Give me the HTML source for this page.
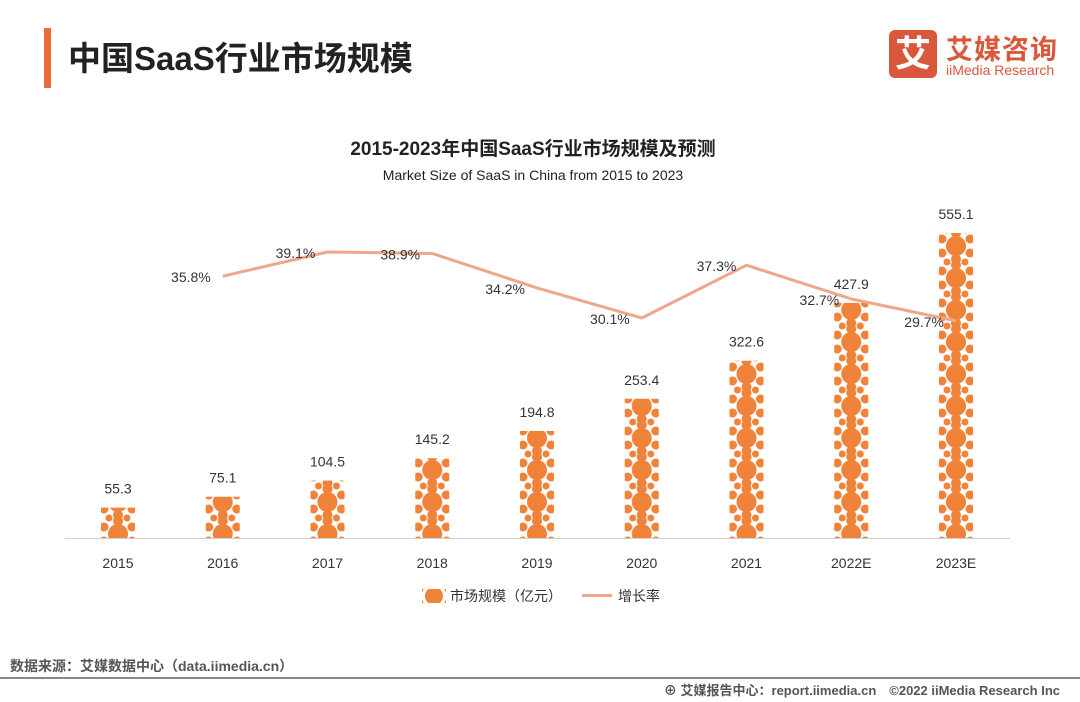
<!DOCTYPE html>
<html><head><meta charset="utf-8"><style>
body{margin:0;width:1080px;height:702px;background:#fff;font-family:"Liberation Sans","Noto Sans CJK SC",sans-serif;overflow:hidden;position:relative}
.abs{position:absolute}
</style></head><body>
<div class="abs" style="left:44px;top:28px;width:7px;height:60px;background:#ee6a3a"></div>
<div class="abs" style="left:68px;top:32px;font-size:33px;font-weight:bold;color:#222">中国SaaS行业市场规模</div>
<div class="abs" style="left:889px;top:30px;width:48px;height:48px;background:#d9573a;border-radius:6px;color:#fff;font-size:36px;font-weight:bold;text-align:center;line-height:48px">艾</div>
<div class="abs" style="left:946px;top:28px;font-size:27px;font-weight:bold;color:#d9573a;letter-spacing:1px">艾媒咨询</div>
<div class="abs" style="left:946px;top:62px;font-size:14px;color:#d9573a">iiMedia Research</div>
<div class="abs" style="left:0;width:1066px;text-align:center;top:134px;font-size:19px;font-weight:bold;color:#222">2015-2023年中国SaaS行业市场规模及预测</div>
<div class="abs" style="left:0;width:1066px;text-align:center;top:167px;font-size:14px;color:#222">Market Size of SaaS in China from 2015 to 2023</div>
<svg class="abs" style="left:0;top:0" width="1080" height="702">
<defs><pattern id="pt" patternUnits="userSpaceOnUse" width="34" height="32" x="-17" y="6">
<rect width="34" height="32" fill="#fff"/>
<circle cx="17" cy="16" r="10" fill="#f0823a"/><circle cx="17" cy="3" r="5" fill="#f0823a"/><circle cx="17" cy="29" r="5" fill="#f0823a"/>
<circle cx="3" cy="9" r="4.5" fill="#f0823a"/><circle cx="31" cy="9" r="4.5" fill="#f0823a"/><circle cx="3" cy="23" r="4.5" fill="#f0823a"/><circle cx="31" cy="23" r="4.5" fill="#f0823a"/>
<circle cx="8" cy="0" r="3.5" fill="#f0823a"/><circle cx="26" cy="0" r="3.5" fill="#f0823a"/><circle cx="8" cy="32" r="3.5" fill="#f0823a"/><circle cx="26" cy="32" r="3.5" fill="#f0823a"/>
</pattern>
<pattern id="pt2" patternUnits="userSpaceOnUse" width="34" height="32" x="-5" y="-9">
<rect width="34" height="32" fill="#fff"/>
<circle cx="17" cy="16" r="9" fill="#f0823a"/>
<circle cx="3" cy="9" r="3.5" fill="#f0823a"/><circle cx="31" cy="9" r="3.5" fill="#f0823a"/><circle cx="3" cy="23" r="3.5" fill="#f0823a"/><circle cx="31" cy="23" r="3.5" fill="#f0823a"/>
</pattern></defs>
<line x1="65" y1="538.5" x2="1010" y2="538.5" stroke="#d0d0d0"/>
<g id="bars"></g><g id="line"></g><g id="labels"></g>
</svg>
<div class="abs" style="left:422px;top:586px;font-size:14px;color:#333;display:flex;align-items:center">
<svg width="24" height="14"><rect width="24" height="14" fill="url(#pt2)"/></svg><span style="margin-left:4px">市场规模（亿元）</span>
<svg width="30" height="4" style="margin-left:20px"><rect width="30" height="3" fill="#f0a688"/></svg><span style="margin-left:6px">增长率</span></div>
<div class="abs" style="left:10px;top:656px;font-size:14px;font-weight:bold;color:#555">数据来源：艾媒数据中心（data.iimedia.cn）</div>
<div class="abs" style="left:0;top:677px;width:1080px;height:2px;background:#888"></div>
<div class="abs" style="right:20px;top:680px;font-size:13px;font-weight:bold;color:#555">⊕ 艾媒报告中心：report.iimedia.cn　©2022 iiMedia Research Inc</div>
<script>
const categories=["2015","2016","2017","2018","2019","2020","2021","2022E","2023E"];
const sizes=[55.3,75.1,104.5,145.2,194.8,253.4,322.6,427.9,555.1];
const growth=[null,35.8,39.1,38.9,34.2,30.1,37.3,32.7,29.7];
const NS="http://www.w3.org/2000/svg";
const xc=i=>118+i*104.75, yb=v=>538-v*0.5495, yl=v=>252-(v-39.1)*7.33;
function mk(t,a,p){const e=document.createElementNS(NS,t);for(const k in a)e.setAttribute(k,a[k]);(typeof p==='string'?document.getElementById(p):p).appendChild(e);return e;}
let pts=[];
const offs=[0,0,-32,-32,0,0,-30,0,0];
categories.forEach((c,i)=>{
 const g0=mk('g',{transform:'translate('+xc(i)+',0)'},'bars');
 const r=mk('rect',{x:-17,y:yb(sizes[i]),width:34,height:538-yb(sizes[i]),fill:'url(#pt)'},g0);
 
 
 const t=mk('text',{x:xc(i),y:yb(sizes[i])-14,'text-anchor':'middle','font-size':14,fill:'#333'},'labels');t.textContent=sizes[i];
 
 
 const a=mk('text',{x:xc(i),y:568,'text-anchor':'middle','font-size':14,fill:'#333'},'labels');a.textContent=c;
 
 
 if(growth[i]!=null){pts.push(xc(i)+','+yl(growth[i]));
  const g=mk('text',{x:offs[i]?xc(i)+offs[i]:xc(i)-12,y:yl(growth[i])+6,'text-anchor':offs[i]?'middle':'end','font-size':14,fill:'#333'},'labels');g.textContent=growth[i].toFixed(1)+'%';
  if(i==3){g.setAttribute('x',xc(i)-32);}
  
  }
});
const pl=mk('polyline',{points:pts.join(' '),fill:'none',stroke:'#f0a688','stroke-width':3},'line');


</script>
</body></html>
